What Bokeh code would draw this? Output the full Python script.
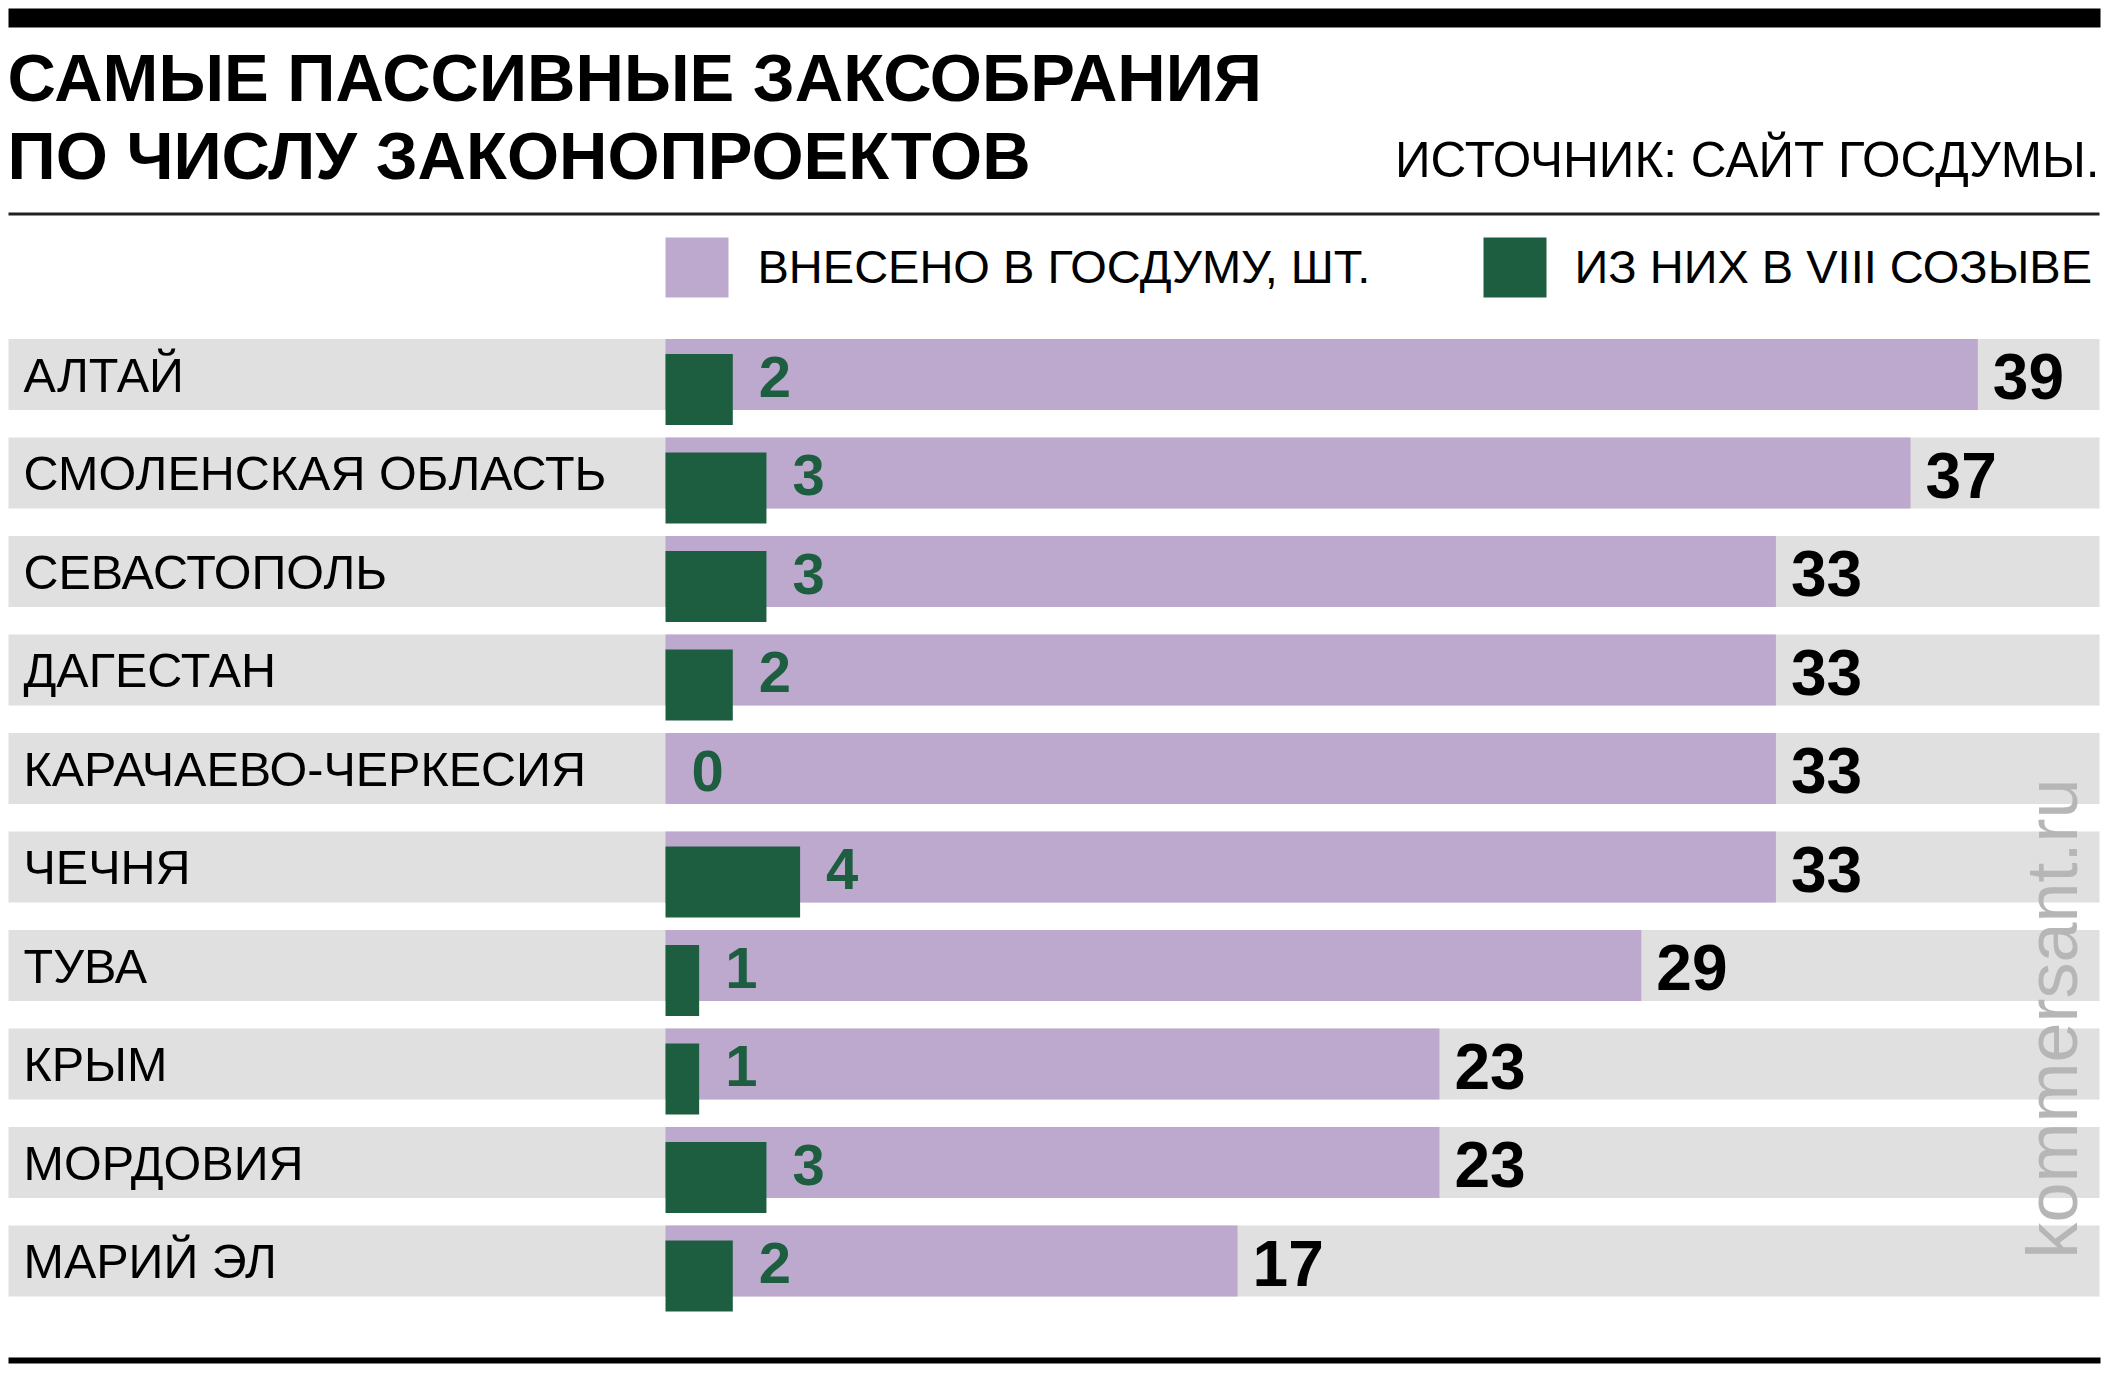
import math
from bokeh.plotting import figure
from bokeh.models import ColumnDataSource, Range1d
from bokeh.core.properties import value
from bokeh.embed import file_html
from bokeh.resources import INLINE

# ---- data ----
categories = ["АЛТАЙ", "СМОЛЕНСКАЯ ОБЛАСТЬ", "СЕВАСТОПОЛЬ", "ДАГЕСТАН",
              "КАРАЧАЕВО-ЧЕРКЕСИЯ", "ЧЕЧНЯ", "ТУВА", "КРЫМ", "МОРДОВИЯ", "МАРИЙ ЭЛ"]
total = [39, 37, 33, 33, 33, 33, 29, 23, 23, 17]
viii = [2, 3, 3, 2, 0, 4, 1, 1, 3, 2]
title_lines = ["САМЫЕ ПАССИВНЫЕ ЗАКСОБРАНИЯ", "ПО ЧИСЛУ ЗАКОНОПРОЕКТОВ"]
source_text = "ИСТОЧНИК: САЙТ ГОСДУМЫ."
legend_labels = ["ВНЕСЕНО В ГОСДУМУ, ШТ.", "ИЗ НИХ В VIII СОЗЫВЕ"]
watermark = "kommersant.ru"

# ---- styles ----
GRAY = "#e0e0e0"
PURPLE = "#bea9ce"
GREEN = "#1e5e40"
FONT = value("Liberation Sans")
K = 0.38  # empirical baseline correction (fraction of font size)

# page-pixel -> data-unit helpers (layout only)
X0, XU = 665.0, 33.65   # x pixel of value 0, pixels per unit
Y0, YU = 374.0, 98.5    # y pixel of row 0 centre, pixels per row


def px(x):
    return (x - X0) / XU


def py(y):
    return (y - Y0) / YU


def base(y, size):
    """data y for a text whose baseline should sit at page pixel y"""
    return py(y - K * size)


W, H = 2108, 1380
p = figure(width=W, height=H,
           x_range=Range1d(px(0), px(W)),
           y_range=Range1d(py(H), py(0)),
           output_backend="svg", toolbar_location=None,
           x_axis_location=None, y_axis_location=None,
           min_border=0, outline_line_color=None,
           background_fill_color="white", border_fill_color="white")
p.xgrid.visible = False
p.ygrid.visible = False

idx = list(range(len(categories)))
bar_h = 71 / YU
LAB, GNUM, TNUM = 48.5, 58, 64
src = ColumnDataSource(dict(
    y=idx,
    y_green=[i + 15 / YU for i in idx],
    y_lab=[i + (18.5 - K * LAB) / YU for i in idx],
    y_gnum=[i + (24.5 - K * GNUM) / YU for i in idx],
    y_tnum=[i + (26.5 - K * TNUM) / YU for i in idx],
    cat=categories,
    total=total,
    viii=viii,
    x_gnum=[v + 26 / XU for v in viii],
    x_tnum=[t + 15 / XU for t in total],
    s_viii=[str(v) for v in viii],
    s_total=[str(t) for t in total],
))

# row backgrounds
p.hbar(y="y", left=px(8), right=px(2099), height=bar_h, fill_color=GRAY,
       line_color=None, source=src)
# total bars
p.hbar(y="y", left=0, right="total", height=bar_h, fill_color=PURPLE,
       line_color=None, source=src)
# VIII convocation bars
p.hbar(y="y_green", left=0, right="viii", height=bar_h, fill_color=GREEN,
       line_color=None, source=src)

# category labels
p.text(x=px(23), y="y_lab", text="cat", source=src, text_font=FONT,
       text_font_size=f"{LAB}px", text_color="black", text_baseline="alphabetic",
       text_align="left")
# green numbers
p.text(x="x_gnum", y="y_gnum", text="s_viii", source=src, text_font=FONT,
       text_font_style="bold", text_font_size=f"{GNUM}px", text_color=GREEN,
       text_baseline="alphabetic", text_align="left")
# total numbers
p.text(x="x_tnum", y="y_tnum", text="s_total", source=src, text_font=FONT,
       text_font_style="bold", text_font_size=f"{TNUM}px", text_color="black",
       text_baseline="alphabetic", text_align="left")

# watermark (rotated, reads bottom to top)
WM = 72
p.text(x=[px(2079 - K * WM)], y=[py(1258)], text=[watermark], angle=math.pi / 2,
       text_font=FONT, text_font_size=f"{WM}px", text_color="#b6b6b6",
       text_baseline="alphabetic", text_align="left")

# rules
p.quad(left=[px(8)], right=[px(2100)], top=[py(8)], bottom=[py(27)],
       fill_color="black", line_color=None)
p.quad(left=[px(8)], right=[px(2099)], top=[py(212)], bottom=[py(215)],
       fill_color="#222222", line_color=None)
p.quad(left=[px(8)], right=[px(2100)], top=[py(1357)], bottom=[py(1363)],
       fill_color="black", line_color=None)

# title
TT = 67
p.text(x=[px(7), px(7)], y=[base(102, TT), base(180, TT)], text=title_lines, text_font=FONT,
       text_font_style="bold", text_font_size=f"{TT}px", text_color="black",
       text_baseline="alphabetic", text_align="left")
# source
SR = 49.5
p.text(x=[px(2099)], y=[base(178, SR)], text=[source_text], text_font=FONT,
       text_font_size=f"{SR}px", text_color="black", text_baseline="alphabetic",
       text_align="right")

# legend
LG = 47
p.quad(left=[px(665)], right=[px(728)], top=[py(237)], bottom=[py(297)],
       fill_color=PURPLE, line_color=None)
p.quad(left=[px(1483)], right=[px(1546)], top=[py(237)], bottom=[py(297)],
       fill_color=GREEN, line_color=None)
p.text(x=[px(757), px(1574)], y=[base(284, LG), base(284, LG)], text=legend_labels,
       text_font=FONT, text_font_size=f"{LG}px", text_color="black",
       text_baseline="alphabetic", text_align="left")

open("out.html", "w").write(file_html(p, INLINE))
